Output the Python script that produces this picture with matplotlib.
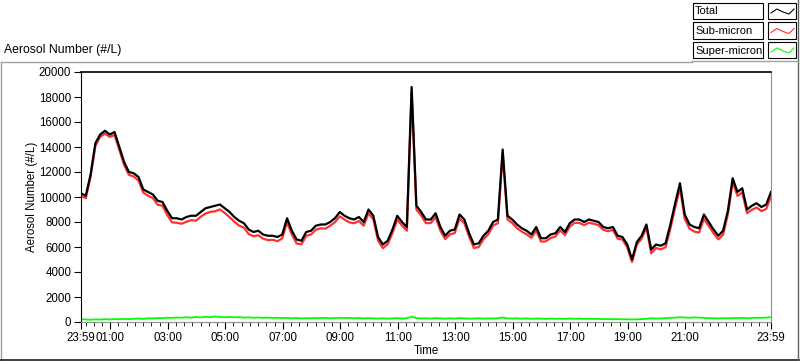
import numpy as np
import matplotlib
matplotlib.use('Agg')
import matplotlib.pyplot as plt
from matplotlib.patches import Rectangle
from matplotlib.lines import Line2D

plt.rcParams['font.family'] = ['Liberation Sans', 'DejaVu Sans']

# 10-minute samples starting at 23:59 (minutes since start)
total = [10300, 10100, 11800, 14300, 15000, 15300, 15000, 15200, 14000, 12800,
         12000, 11900, 11600, 10600, 10400, 10200, 9700, 9600, 8900, 8300,
         8300, 8200, 8400, 8500, 8500, 8800, 9100, 9200, 9300, 9400,
         9100, 8800, 8400, 8100, 7900, 7400, 7200, 7300, 7000, 6900,
         6900, 6800, 7000, 8300, 7300, 6600, 6500, 7200, 7300, 7700,
         7800, 7800, 8000, 8300, 8800, 8500, 8300, 8200, 8400, 8000,
         9000, 8500, 6800, 6200, 6500, 7400, 8500, 8000, 7600, 18800,
         9300, 8800, 8200, 8200, 8700, 7600, 6900, 7300, 7400, 8600,
         8200, 7100, 6200, 6300, 6900, 7300, 8000, 8200, 13800, 8500,
         8200, 7800, 7500, 7300, 7000, 7600, 6700, 6700, 7000, 7100,
         7600, 7200, 7900, 8200, 8200, 8000, 8200, 8100, 8000, 7600,
         7500, 7600, 6900, 6800, 6200, 5000, 6400, 6900, 7800, 5800,
         6200, 6100, 6300, 7800, 9500, 11100, 8600, 7800, 7600, 7500,
         8600, 8000, 7400, 6900, 7300, 8900, 11500, 10400, 10700, 9000,
         9300, 9500, 9200, 9400, 10400]

sub_micron = [10080, 9900, 11620, 14090, 14810, 15070, 14800, 14960, 13780, 12550,
              11770, 11640, 11320, 10350, 10100, 9910, 9380, 9300, 8560, 7970,
              7940, 7860, 8020, 8150, 8100, 8430, 8680, 8810, 8860, 9000,
              8720, 8390, 8030, 7710, 7550, 7030, 6860, 6940, 6670, 6550,
              6580, 6460, 6690, 7970, 7000, 6280, 6210, 6890, 7000, 7380,
              7490, 7470, 7700, 7980, 8460, 8190, 7970, 7900, 8080, 7710,
              8690, 8210, 6520, 5900, 6230, 7110, 8190, 7720, 7300, 18380,
              8990, 8510, 7900, 7920, 8390, 7310, 6630, 7000, 7120, 8290,
              7910, 6830, 5920, 6000, 6630, 7010, 7720, 7900, 13440, 8210,
              7920, 7500, 7230, 7010, 6740, 7320, 6430, 6450, 6720, 6840,
              7330, 6950, 7620, 7940, 7930, 7750, 7940, 7860, 7750, 7370,
              7260, 7380, 6670, 6590, 5980, 4800, 6190, 6670, 7540, 5500,
              5920, 5810, 5990, 7470, 9150, 10720, 8240, 7460, 7230, 7150,
              8270, 7690, 7100, 6610, 6990, 8600, 11180, 10090, 10370, 8700,
              8980, 9160, 8870, 9040, 10020]

super_micron = [220, 200, 180, 210, 190, 230, 200, 240, 220, 250,
                230, 260, 280, 250, 300, 290, 320, 300, 340, 330,
                360, 340, 380, 350, 400, 370, 420, 390, 440, 400,
                380, 410, 370, 390, 350, 370, 340, 360, 330, 350,
                320, 340, 310, 330, 300, 320, 290, 310, 300, 320,
                310, 330, 300, 320, 340, 310, 330, 300, 320, 290,
                310, 290, 280, 300, 270, 290, 310, 280, 300, 420,
                310, 290, 300, 280, 310, 290, 270, 300, 280, 310,
                290, 270, 280, 300, 270, 290, 280, 300, 360, 290,
                280, 300, 270, 290, 260, 280, 270, 250, 280, 260,
                270, 250, 280, 260, 270, 250, 260, 240, 250, 230,
                240, 220, 230, 210, 220, 200, 210, 230, 260, 300,
                280, 290, 310, 330, 350, 380, 360, 340, 370, 350,
                330, 310, 300, 290, 310, 300, 320, 310, 330, 300,
                320, 340, 330, 360, 380]

tick_minutes = [0, 61, 181, 301, 421, 541, 661, 781, 901, 1021, 1141, 1261, 1440]
tick_labels = ['23:59', '01:00', '03:00', '05:00', '07:00', '09:00', '11:00',
               '13:00', '15:00', '17:00', '19:00', '21:00', '23:59']
series_names = ['Total', 'Sub-micron', 'Super-micron']
series_colors = ['#000000', '#ff3030', '#00ff00']

t = np.arange(len(total)) * 10

fig = plt.figure(figsize=(8, 3.61), dpi=100)
ax = fig.add_axes([81 / 800, 39 / 361, 690 / 800, 250 / 361])

ax.plot(t, super_micron, color=series_colors[2], lw=1.3)
ax.plot(t, sub_micron, color=series_colors[1], lw=1.6)
ax.plot(t, total, color=series_colors[0], lw=1.6)

ax.set_xlim(0, 1440)
ax.set_ylim(0, 20000)
ax.set_yticks(np.arange(0, 20001, 2000))
ax.set_xticks(tick_minutes)
ax.set_xticklabels(tick_labels)
ax.set_xticks(np.arange(181 - 10 * 120 / 7, 1440, 120 / 7), minor=True)
ax.tick_params(axis='both', labelsize=8.3, direction='out', color='black')
ax.tick_params(axis='x', which='major', length=5, pad=2)
ax.tick_params(axis='x', which='minor', length=3)
ax.tick_params(axis='y', length=5, pad=2)

for s in ['left', 'top']:
    ax.spines[s].set_color('black')
for s in ['right', 'bottom']:
    ax.spines[s].set_color('#909090')
ax.spines['top'].set_linewidth(1.2)

ax.set_xlabel('Time', fontsize=8.3, labelpad=1)
ax.set_ylabel('Aerosol Number (#/L)', fontsize=8.3, labelpad=1)
fig.text(4 / 800, 1 - 50 / 361, 'Aerosol Number (#/L)', fontsize=8.8, va='center', ha='left')

# outer panel frame
fig.add_artist(Line2D([1 / 800, 692 / 800], [1 - 62 / 361] * 2, color='#a0a0a0', lw=1))
fig.add_artist(Line2D([1 / 800] * 2, [1 / 361, 1 - 62 / 361], color='#a0a0a0', lw=1))
fig.add_artist(Line2D([0, 1], [1.5 / 361] * 2, color='#202020', lw=1.2))
fig.add_artist(Line2D([798 / 800] * 2, [1.5 / 361, 1], color='#606060', lw=1))
fig.add_artist(Line2D([692 / 800, 798 / 800], [1 - 61 / 361] * 2, color='#a0a0a0', lw=1))

# legend boxes
for i, (name, col) in enumerate(zip(series_names, series_colors)):
    top = 3 + i * 19.5
    fig.add_artist(Rectangle((693 / 800, 1 - (top + 16) / 361), 70 / 800, 16 / 361,
                             fill=False, ec='black', lw=0.8))
    fig.add_artist(Rectangle((768 / 800, 1 - (top + 16) / 361), 28 / 800, 16 / 361,
                             fill=False, ec='black', lw=0.8))
    fig.text(695 / 800, 1 - (top + 8.5) / 361, name, fontsize=8, va='center', ha='left')
    zx = np.array([771, 777, 783, 789, 794]) / 800
    zy = 1 - (top + np.array([10, 6, 9, 11, 6])) / 361
    fig.add_artist(Line2D(zx, zy, color=col, lw=0.8))

fig.savefig('out.png', dpi=100)
